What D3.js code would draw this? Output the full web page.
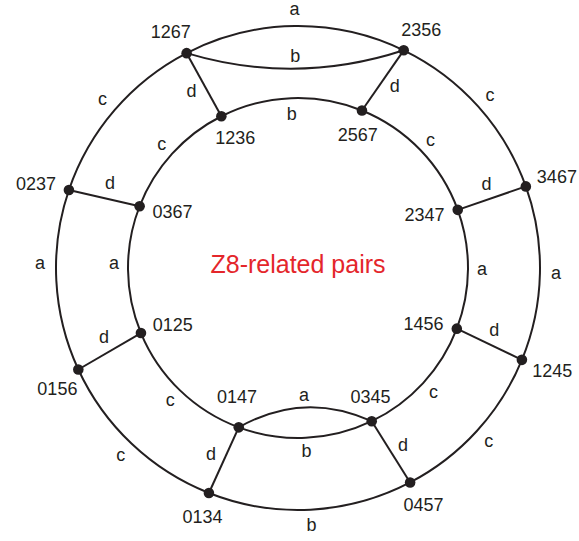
<!DOCTYPE html>
<html>
<head>
<meta charset="utf-8">
<script src="https://cdn.jsdelivr.net/npm/d3@7"></script>
<style>
  body { margin: 0; background: #fff; }
  svg { display: block; font-family: Arial, "Liberation Sans", sans-serif; }
</style>
</head>
<body>
<div id="chart"></div>
<script>
// nodes of the outer ring, clockwise from top-left, and their angle (deg, 0 = top)
const outerNodes = ["1267", "2356", "3467", "1245", "0457", "0134", "0156", "0237"];
const outerAngles = [332.6, 25.9, 70.3, 112.3, 152.4, 201.6, 245.2, 288.8];
// inner ring
const innerNodes = ["1236", "2567", "2347", "1456", "0345", "0147", "0125", "0367"];
const innerAngles = [333.2, 22.1, 70.0, 110.9, 154.3, 200.4, 247.5, 291.3];
// ring edge labels: node i -> node i+1
const outerRingLabels = ["a", "c", "a", "c", "b", "c", "a", "c"];
const innerRingLabels = ["b", "c", "a", "c", "b", "c", "a", "c"];
// spokes: outer i <-> inner i
const spokeLabels = ["d", "d", "d", "d", "d", "d", "d", "d"];
// extra (double) edges
const extraSource = ["1267", "0147"];
const extraTarget = ["2356", "0345"];
const extraLabels = ["b", "a"];
const title = "Z8-related pairs";

const width = 579, height = 541;
const cx = 298, cy = 268;
const R = 242, r = 170;
const ink = "#231f20";

// layout tweaks (label placement)
const nodeLabelDir = {
  "1267": 332, "2356": 31, "3467": 66, "1245": 117, "0457": 157, "0134": 191, "0156": 218, "0237": 285,
  "1236": 156, "2567": 187, "2347": 258, "1456": 282, "0345": 358, "0147": 357, "0125": 69, "0367": 104
};
const spokeSide = [-1, 1, -1, -1, -1, 1, 1, 1];
const ringLabelShift = { "outer6": 4, "inner6": 2 };

const rad = d3.scaleLinear().domain([0, 360]).range([0, 2 * Math.PI]);
const pos = (deg, rr) => {
  const p = d3.pointRadial(rad(deg), rr);
  return [cx + p[0], cy + p[1]];
};

const nodes = {};
outerNodes.forEach((n, i) => nodes[n] = { name: n, angle: outerAngles[i], r: R, xy: pos(outerAngles[i], R) });
innerNodes.forEach((n, i) => nodes[n] = { name: n, angle: innerAngles[i], r: r, xy: pos(innerAngles[i], r) });

const svg = d3.select("#chart").append("svg").attr("width", width).attr("height", height);
const gEdges = svg.append("g").attr("fill", "none").attr("stroke", ink).attr("stroke-width", 2);
const gText = svg.append("g").attr("fill", ink).attr("font-size", 18).attr("text-anchor", "middle");

// ring arcs
const drawRing = (names, angles, labels, rr, key, labelOffset) => {
  names.forEach((n, i) => {
    const j = (i + 1) % names.length;
    let a0 = angles[i], a1 = angles[j];
    if (a1 < a0) a1 += 360;
    const p = d3.path();
    p.arc(cx, cy, rr, rad(a0) - Math.PI / 2, rad(a1) - Math.PI / 2);
    gEdges.append("path").attr("d", p.toString());
    const mid = (a0 + a1) / 2 + (ringLabelShift[key + i] || 0);
    const off = (typeof labelOffset === "function") ? labelOffset(i) : labelOffset;
    const lp = pos(mid, rr + off);
    gText.append("text").attr("x", lp[0]).attr("y", lp[1]).attr("dy", "0.3em").text(labels[i]);
  });
};
drawRing(outerNodes, outerAngles, outerRingLabels, R, "outer", 16);
drawRing(innerNodes, innerAngles, innerRingLabels, r, "inner", i => i === 0 ? -16 : 14);

// spokes
outerNodes.forEach((n, i) => {
  const a = nodes[n], b = nodes[innerNodes[i]];
  gEdges.append("line")
    .attr("x1", a.xy[0]).attr("y1", a.xy[1])
    .attr("x2", b.xy[0]).attr("y2", b.xy[1]);
  const ang = (a.angle + b.angle) / 2 + spokeSide[i] * 4;
  const lp = pos(ang, (R + r) / 2);
  gText.append("text").attr("x", lp[0]).attr("y", lp[1]).attr("dy", "0.3em").text(spokeLabels[i]);
});

// extra curved edges, bulging towards the centre
const bulge = 17;
extraSource.forEach((s, i) => {
  const a = nodes[s].xy, b = nodes[extraTarget[i]].xy;
  const mx = (a[0] + b[0]) / 2, my = (a[1] + b[1]) / 2;
  const dx = cx - mx, dy = cy - my, len = Math.hypot(dx, dy);
  const nx = dx / len, ny = dy / len;
  const p = d3.path();
  p.moveTo(a[0], a[1]);
  p.quadraticCurveTo(mx + nx * bulge * 2, my + ny * bulge * 2, b[0], b[1]);
  gEdges.append("path").attr("d", p.toString());
  // top label sits outside the curve, bottom one inside
  const side = i === 0 ? -12 : 12;
  const lx = mx + nx * (bulge + side), ly = my + ny * (bulge + side);
  gText.append("text").attr("x", lx).attr("y", ly).attr("dy", "0.3em").text(extraLabels[i]);
});

// nodes and their labels
const allNodes = Object.values(nodes);
svg.append("g").selectAll("circle")
  .data(allNodes)
  .enter()
  .append("circle")
  .attr("cx", d => d.xy[0])
  .attr("cy", d => d.xy[1])
  .attr("r", 5.3)
  .attr("fill", ink);

gText.selectAll(".nlab")
  .data(allNodes)
  .enter()
  .append("text")
  .attr("class", "nlab")
  .attr("x", d => d.xy[0] + Math.sin(rad(nodeLabelDir[d.name])) * 34)
  .attr("y", d => d.xy[1] - Math.cos(rad(nodeLabelDir[d.name])) * (d.name === "0147" ? 31 : 24))
  .attr("dy", "0.35em")
  .text(d => d.name);

svg.append("text")
  .attr("x", cx).attr("y", 264)
  .attr("dy", "0.35em")
  .attr("text-anchor", "middle")
  .attr("font-size", 25)
  .attr("fill", "#e4262b")
  .text(title);
</script>
</body>
</html>
